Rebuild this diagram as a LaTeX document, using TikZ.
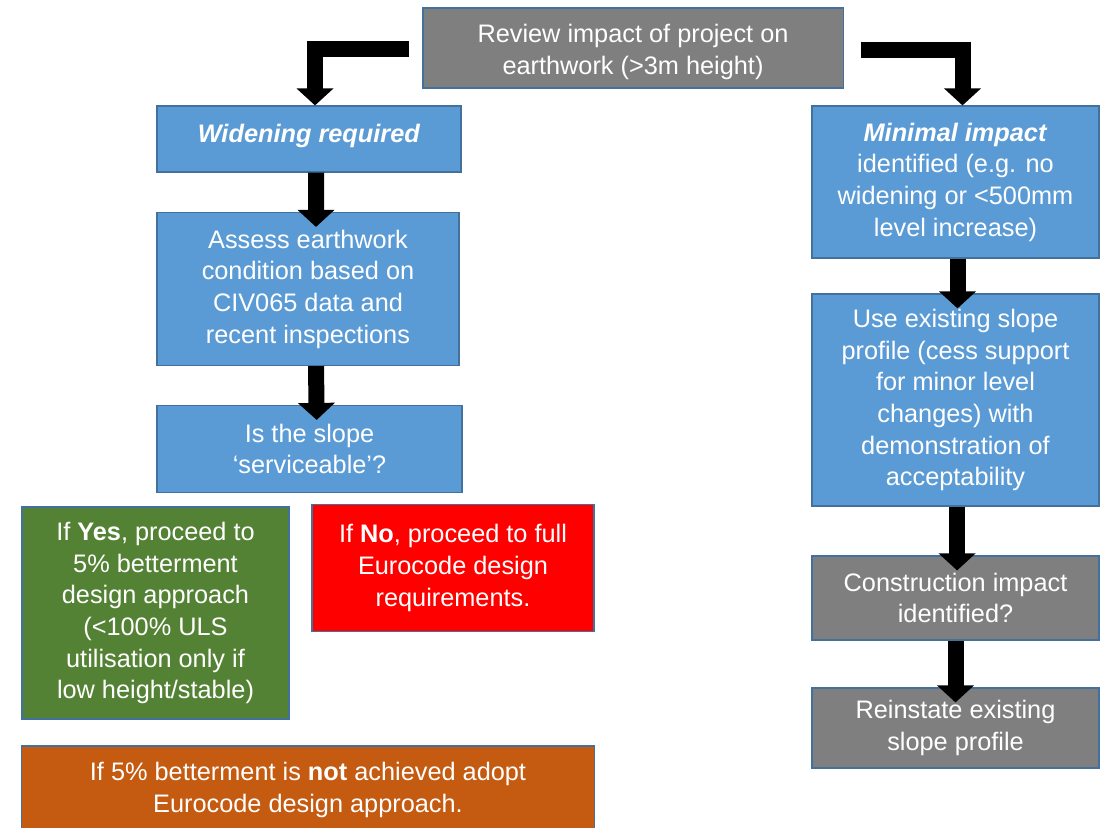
\documentclass[tikz,border=0pt]{standalone}
\usepackage{fontspec}
\setmainfont{Liberation Sans}
\usetikzlibrary{arrows.meta}

\begin{document}
\begin{tikzpicture}[x=0.025cm, y=-0.025cm, >={Triangle[width=0.9cm, length=0.425cm]},
		box/.style={draw=edgeblue, line width=0.8pt, text=white, align=center, inner sep=0pt,
			font=\fontsize{18}{22.5}\selectfont},
		bigarrow/.style={->, line width=0.4cm, black},
		dive/.style={shorten >=-0.375cm}]
			\definecolor{edgeblue}{RGB}{65, 113, 156}
			\definecolor{flowblue}{RGB}{91, 155, 213}
			\definecolor{flowgrey}{RGB}{127, 127, 127}
			\definecolor{flowgreen}{RGB}{84, 130, 53}
			\definecolor{flowred}{RGB}{255, 0, 0}
			\definecolor{floworange}{RGB}{197, 90, 17}
			\clip (0,0) rectangle (1105,828);
			\fill[white] (0,0) rectangle (1105,828);
			% left column
			\node[box, fill=flowgrey, minimum width=10.5cm, minimum height=2cm] (review) at (633,48)
				{\raisebox{-0.26cm}[0pt][0pt]{\begin{tabular}{@{}c@{}}Review impact of project on\\earthwork (>3m height)\end{tabular}}};
			\node[box, fill=flowblue, minimum width=7.6cm, minimum height=1.65cm] (widen) at (309,139)
				{\raisebox{-0.08cm}[0pt][0pt]{\textbf{\textit{Widening required}}}};
			\node[box, fill=flowblue, minimum width=7.55cm, minimum height=3.825cm] (assess) at (308,289)
				{Assess earthwork\\condition based on\\CIV065 data and\\recent inspections};
			\node[box, fill=flowblue, minimum width=7.625cm, minimum height=2.175cm] (slope) at (309.5,449)
				{Is the slope\\`serviceable'?};
			\node[box, fill=flowgreen, minimum width=6.675cm, minimum height=5.3cm] (yes) at (155.5,613)
				{If \textbf{Yes}, proceed to\\5\% betterment\\design approach\\(<100\% ULS\\utilisation only if\\low height/stable)};
			\node[box, fill=flowred, minimum width=7.05cm, minimum height=3.175cm] (no) at (453,568)
				{If \textbf{No}, proceed to full\\Eurocode design\\requirements.};
			\node[box, fill=floworange, minimum width=14.3cm, minimum height=2.2cm] (notmet) at (308,790)
				{If 5\% betterment is \textbf{not} achieved adopt\\Eurocode design approach.};
			% right column
			\node[box, fill=flowblue, minimum width=7.175cm, minimum height=3.8cm] (minimal) at (955.5,182)
				{\textbf{\textit{Minimal impact}}\\identified (e.g. no\\widening or <500mm\\level increase)};
			\node[box, fill=flowblue, minimum width=7.175cm, minimum height=5.3cm] (existing) at (955.5,400)
				{Use existing slope\\profile (cess support\\for minor level\\changes) with\\demonstration of\\acceptability};
			\node[box, fill=flowgrey, minimum width=7.175cm, minimum height=2.1cm] (constr) at (955.5,598)
				{Construction impact\\identified?};
			\node[box, fill=flowgrey, minimum width=7.175cm, minimum height=2cm] (reinstate) at (955.5,728)
				{Reinstate existing\\slope profile};
			% arrows
			\draw[bigarrow, shorten <=0.325cm] ([yshift=-0.025cm]review.west) -| ([xshift=0.15cm]widen.north);
			\draw[bigarrow, shorten <=0.425cm] ([yshift=-0.05cm]review.east) -| ([xshift=0.175cm]minimal.north);
			\draw[bigarrow, dive] ([xshift=0.175cm]widen.south) -- ([xshift=0.2cm]assess.north);
			\draw[bigarrow, dive] ([xshift=0.2cm]assess.south) -- ([xshift=0.175cm]slope.north);
			\draw[bigarrow, dive] ([xshift=0.05cm]minimal.south) -- ([xshift=0.05cm]existing.north);
			\draw[bigarrow, dive] ([xshift=0.04cm]existing.south) -- ([xshift=0.04cm]constr.north);
			\draw[bigarrow, dive] (constr.south) -- (reinstate.north);
		\end{tikzpicture}
\end{document}
